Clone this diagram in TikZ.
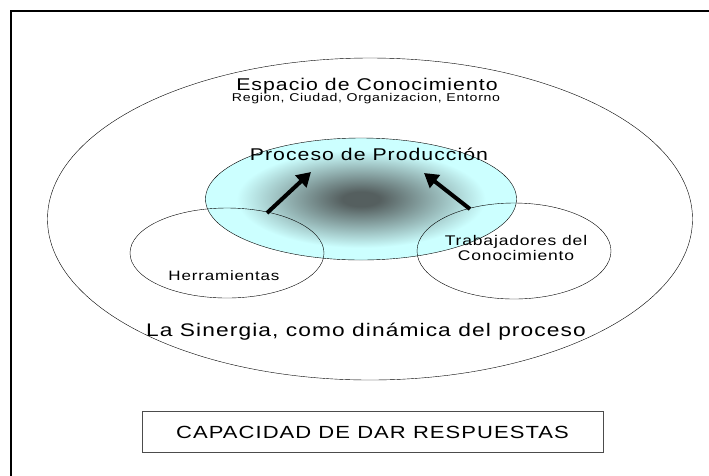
\documentclass[tikz,border=0pt]{standalone}
\usepackage{fontspec}
\setmainfont{Liberation Sans}[FakeStretch=1.25,LetterSpace=6]
\usepackage{xcolor}
\usepackage{tikz}
\usetikzlibrary{shapes.geometric}
\usetikzlibrary{arrows.meta}

\definecolor{celeste}{RGB}{204,255,255}
\definecolor{nucleogris}{RGB}{85,95,95}
\pgfdeclareradialshading{nucleo}{\pgfpoint{0bp}{0bp}}{color(0bp)=(nucleogris); color(3bp)=(nucleogris); color(20bp)=(celeste); color(50bp)=(celeste)}

\begin{document}
\begin{tikzpicture}[x=1pt,y=-1pt]

% Define styles
\tikzset{
    zona/.style={ellipse, draw, thin, inner sep=0pt},
    rotulo/.style={anchor=base, inner sep=0pt, align=center},
    flecha/.style={line width=4pt, -{Triangle[length=14pt,width=16pt]}},
    marco/.style={line width=2pt}
}

\useasboundingbox (0,0) rectangle (709,475);

% frame, cut at right and bottom
\draw[marco] (11,476) -- (11,11) -- (710,11);

% space of knowledge
\node[zona, minimum width=645pt, minimum height=322pt] (espacio) at (370,219) {};

% production process
\node[zona, shading=nucleo, minimum width=311pt, minimum height=122pt] (produccion) at (361,199) {};

% tools and workers
\node[zona, minimum width=194pt, minimum height=90pt] (herr) at (227,253) {};
\node[zona, minimum width=194pt, minimum height=96pt] (trab) at (514,251) {};

% labels
\node[rotulo, font=\fontsize{17}{20}\selectfont] (tespacio) at (367,90) {Espacio de Conocimiento};
\node[rotulo, font=\fontsize{11.3}{13}\selectfont] (tregion) at (366,101.5) {Region, Ciudad, Organizacion, Entorno};
\node[rotulo, font=\fontsize{17}{20}\selectfont] (tproceso) at (369,160) {Proceso de Producción};
\node[rotulo, font=\fontsize{13.6}{15}\selectfont] (therr) at (224,280) {Herramientas};
\node[rotulo, font=\fontsize{14}{15}\selectfont] (ttrab) at (516,260) {Trabajadores del\\Conocimiento};
\node[rotulo, font=\fontsize{18.2}{21}\selectfont] (tsinergia) at (366,336) {La Sinergia, como dinámica del proceso};

% arrows into the process
\coordinate (h1) at (267,213);
\coordinate (h2) at (311,172);
\coordinate (t1) at (470,209);
\coordinate (t2) at (424,173);
\draw[flecha] (h1) -- (h2);
\draw[flecha] (t1) -- (t2);

% answer box
\node[draw=black!70, minimum width=461pt, minimum height=41pt, inner sep=0pt,
      font=\fontsize{17.6}{21}\selectfont] (capacidad) at (372.5,432) {CAPACIDAD DE DAR RESPUESTAS};

\end{tikzpicture}
\end{document}
